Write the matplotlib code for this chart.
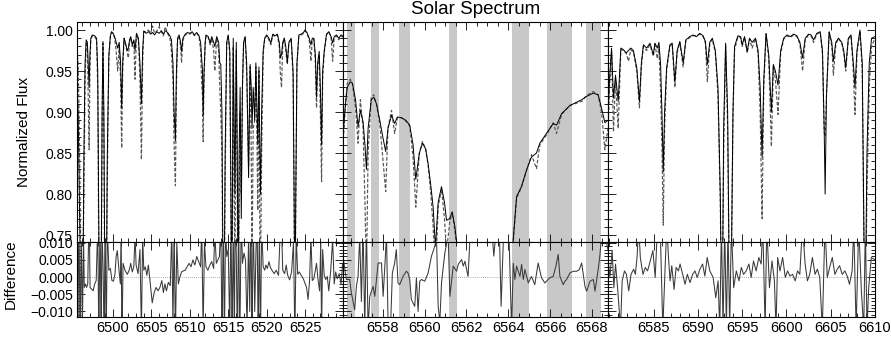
import numpy as np
import matplotlib.pyplot as plt
from matplotlib.ticker import MultipleLocator, FixedLocator, FixedFormatter

plt.rcParams['font.family'] = ['Liberation Sans', 'DejaVu Sans']

# ---- left window: wavelength, observed flux, model flux ----
left_wave = [6495.30, 6495.45, 6495.60, 6495.75, 6495.90, 6496.05, 6496.20, 6496.35, 6496.50, 6496.65,
             6496.80, 6496.88, 6496.98, 6497.10, 6497.30, 6497.60, 6497.85, 6498.00, 6498.15, 6498.30,
             6498.45, 6498.57, 6498.68, 6498.80, 6498.95, 6499.10, 6499.25, 6499.45, 6499.65, 6499.80,
             6500.00, 6500.20, 6500.40, 6500.60, 6500.80, 6500.98, 6501.12, 6501.25, 6501.43, 6501.60,
             6501.85, 6501.99, 6502.15, 6502.30, 6502.50, 6502.70, 6502.86, 6503.05, 6503.30, 6503.50,
             6503.69, 6503.85, 6504.00, 6504.30, 6504.60, 6504.90, 6505.15, 6505.40, 6505.70, 6506.00,
             6506.30, 6506.55, 6506.80, 6507.10, 6507.40, 6507.60, 6507.80, 6507.95, 6508.12, 6508.25,
             6508.40, 6508.60, 6508.80, 6508.92, 6509.10, 6509.40, 6509.70, 6510.00, 6510.30, 6510.60,
             6510.90, 6511.20, 6511.40, 6511.55, 6511.65, 6511.73, 6511.85, 6512.00, 6512.10, 6512.40,
             6512.65, 6512.85, 6513.10, 6513.25, 6513.50, 6513.75, 6513.90, 6514.03, 6514.18, 6514.30,
             6514.45, 6514.60, 6514.80, 6515.00, 6515.20, 6515.35, 6515.45, 6515.55, 6515.65, 6515.78,
             6515.87, 6515.96, 6516.05, 6516.18, 6516.30, 6516.42, 6516.55, 6516.70, 6516.85, 6517.00,
             6517.20, 6517.40, 6517.65, 6517.85, 6518.00, 6518.10, 6518.25, 6518.45, 6518.60, 6518.75,
             6518.85, 6519.00, 6519.12, 6519.20, 6519.35, 6519.55, 6519.75, 6520.00, 6520.30, 6520.55,
             6520.80, 6521.10, 6521.40, 6521.65, 6521.80, 6521.94, 6522.10, 6522.30, 6522.50, 6522.70,
             6522.90, 6523.20, 6523.45, 6523.58, 6523.68, 6523.80, 6523.95, 6524.20, 6524.50, 6524.80,
             6525.00, 6525.25, 6525.55, 6525.77, 6525.95, 6526.15, 6526.35, 6526.50, 6526.65, 6526.85,
             6527.00, 6527.16, 6527.30, 6527.50, 6527.80, 6528.10, 6528.40, 6528.60, 6528.80, 6529.10,
             6529.40, 6529.70, 6530.00]
left_obs = [0.930, 0.900, 0.800, 0.700, 0.600, 0.650, 0.850, 0.960, 0.988, 0.985,
            0.950, 0.930, 0.970, 0.990, 0.994, 0.993, 0.990, 0.950, 0.750, 0.600,
            0.700, 0.900, 0.986, 0.900, 0.650, 0.650, 0.850, 0.970, 0.993, 0.998,
            0.996, 0.992, 0.985, 0.978, 0.985, 0.960, 0.905, 0.960, 0.990, 0.985,
            0.975, 0.978, 0.988, 0.992, 0.982, 0.988, 0.975, 0.996, 0.990, 0.960,
            0.910, 0.975, 0.999, 0.996, 0.998, 0.995, 0.997, 0.994, 0.998, 0.996,
            0.999, 0.995, 0.999, 0.997, 0.993, 0.988, 0.960, 0.900, 0.865, 0.950,
            0.990, 0.994, 0.985, 0.974, 0.990, 0.995, 0.997, 0.996, 0.998, 0.994,
            0.997, 0.993, 0.985, 0.965, 0.950, 0.895, 0.950, 0.985, 0.994, 0.992,
            0.984, 0.992, 0.985, 0.980, 0.992, 0.985, 0.960, 0.958, 0.900, 0.720,
            0.650, 0.850, 0.985, 0.994, 0.975, 0.800, 0.650, 0.800, 0.990, 0.880,
            0.800, 0.900, 0.985, 0.850, 0.650, 0.850, 0.930, 0.770, 0.930, 0.985,
            0.992, 0.960, 0.820, 0.958, 0.930, 0.880, 0.930, 0.890, 0.960, 0.900,
            0.860, 0.955, 0.850, 0.800, 0.900, 0.975, 0.990, 0.994, 0.990, 0.984,
            0.995, 0.993, 0.995, 0.985, 0.966, 0.970, 0.985, 0.990, 0.980, 0.960,
            0.985, 0.990, 0.950, 0.800, 0.650, 0.800, 0.960, 0.994, 0.995, 0.997,
            1.000, 0.997, 0.990, 0.982, 0.990, 0.990, 0.970, 0.918, 0.960, 0.974,
            0.930, 0.860, 0.950, 0.974, 0.995, 0.998, 0.992, 0.984, 0.992, 0.994,
            0.990, 0.994, 0.992]
left_model = [0.975, 0.960, 0.880, 0.760, 0.640, 0.700, 0.800, 0.940, 0.985, 0.980,
              0.900, 0.854, 0.950, 0.988, 0.993, 0.992, 0.988, 0.930, 0.700, 0.580,
              0.680, 0.880, 0.984, 0.870, 0.620, 0.620, 0.820, 0.965, 0.992, 0.997,
              0.996, 0.990, 0.975, 0.950, 0.980, 0.940, 0.856, 0.950, 0.990, 0.983,
              0.972, 0.966, 0.986, 0.991, 0.980, 0.986, 0.940, 0.995, 0.988, 0.940,
              0.842, 0.960, 0.998, 0.998, 1.000, 0.996, 1.005, 0.996, 0.999, 1.004,
              0.998, 0.993, 1.004, 0.996, 0.990, 0.975, 0.940, 0.860, 0.810, 0.930,
              0.988, 0.993, 0.980, 0.960, 0.988, 0.994, 0.996, 0.995, 0.997, 0.993,
              0.996, 0.992, 0.975, 0.933, 0.920, 0.864, 0.940, 0.983, 0.993, 0.991,
              0.982, 0.990, 0.975, 0.950, 0.990, 0.975, 0.930, 0.900, 0.850, 0.700,
              0.620, 0.820, 0.983, 0.994, 0.970, 0.780, 0.620, 0.750, 0.980, 0.800,
              0.700, 0.850, 0.975, 0.800, 0.620, 0.800, 0.900, 0.800, 0.930, 0.983,
              0.991, 0.950, 0.835, 0.955, 0.850, 0.700, 0.880, 0.890, 0.955, 0.860,
              0.780, 0.950, 0.750, 0.700, 0.850, 0.970, 0.989, 0.993, 0.988, 0.982,
              0.994, 0.992, 0.994, 0.980, 0.945, 0.930, 0.980, 0.990, 0.975, 0.958,
              0.984, 0.989, 0.940, 0.780, 0.620, 0.780, 0.955, 0.993, 0.994, 0.996,
              0.999, 0.996, 0.988, 0.962, 0.988, 0.989, 0.960, 0.905, 0.955, 0.970,
              0.900, 0.815, 0.940, 0.972, 0.994, 0.998, 0.990, 0.962, 0.990, 0.993,
              0.988, 0.993, 0.991]

# ---- middle window (H-alpha) ----
mid_wave = [6556.10, 6556.20, 6556.30, 6556.45, 6556.55, 6556.70, 6556.82, 6556.93, 6557.06, 6557.15,
            6557.22, 6557.30, 6557.45, 6557.57, 6557.70, 6557.86, 6558.00, 6558.14, 6558.25, 6558.42,
            6558.57, 6558.70, 6558.90, 6559.10, 6559.29, 6559.45, 6559.58, 6559.75, 6559.90, 6560.05,
            6560.17, 6560.30, 6560.41, 6560.52, 6560.65, 6560.81, 6560.95, 6561.05, 6561.20, 6561.32,
            6561.45, 6561.56, 6562.00, 6562.80, 6563.60, 6564.10, 6564.24, 6564.40, 6564.63, 6564.87,
            6565.11, 6565.35, 6565.51, 6565.83, 6566.15, 6566.31, 6566.55, 6566.95, 6567.51, 6567.74,
            6568.06, 6568.30, 6568.46, 6568.62, 6568.77]
mid_obs = [0.870, 0.905, 0.930, 0.937, 0.935, 0.915, 0.882, 0.902, 0.888, 0.860,
           0.830, 0.880, 0.915, 0.918, 0.910, 0.890, 0.870, 0.852, 0.880, 0.896,
           0.886, 0.894, 0.893, 0.890, 0.884, 0.860, 0.818, 0.850, 0.862, 0.855,
           0.837, 0.810, 0.784, 0.735, 0.790, 0.809, 0.790, 0.768, 0.770, 0.778,
           0.760, 0.735, 0.450, 0.170, 0.400, 0.700, 0.745, 0.797, 0.809, 0.829,
           0.845, 0.850, 0.862, 0.874, 0.886, 0.884, 0.898, 0.908, 0.915, 0.919,
           0.923, 0.921, 0.905, 0.887, 0.890]
mid_model = [0.860, 0.900, 0.935, 0.940, 0.935, 0.905, 0.862, 0.915, 0.880, 0.790,
             0.700, 0.850, 0.918, 0.921, 0.910, 0.885, 0.845, 0.803, 0.880, 0.902,
             0.874, 0.893, 0.893, 0.889, 0.883, 0.845, 0.784, 0.850, 0.864, 0.855,
             0.835, 0.800, 0.760, 0.700, 0.785, 0.806, 0.770, 0.730, 0.765, 0.778,
             0.755, 0.730, 0.450, 0.170, 0.400, 0.700, 0.742, 0.795, 0.808, 0.828,
             0.848, 0.831, 0.860, 0.872, 0.887, 0.874, 0.897, 0.908, 0.913, 0.920,
             0.925, 0.921, 0.900, 0.854, 0.880]
# excluded (shaded) wavelength intervals
mask_lo = [6556.29, 6557.43, 6558.80, 6561.16, 6564.19, 6565.86, 6567.71]
mask_hi = [6556.66, 6557.82, 6559.29, 6561.56, 6564.97, 6567.03, 6568.42]

# ---- right window ----
right_wave = [6579.80, 6580.02, 6580.25, 6580.47, 6580.70, 6581.00, 6581.30, 6581.60, 6581.90, 6582.16,
              6582.42, 6582.72, 6583.10, 6583.40, 6583.62, 6583.85, 6584.22, 6584.59, 6584.97, 6585.15,
              6585.42, 6585.60, 6585.79, 6585.94, 6586.09, 6586.24, 6586.47, 6586.84, 6587.10, 6587.40,
              6587.66, 6587.96, 6588.34, 6588.64, 6589.09, 6589.46, 6589.84, 6590.21, 6590.59, 6590.85,
              6591.07, 6591.34, 6591.63, 6591.97, 6592.27, 6592.53, 6592.72, 6592.91, 6593.13, 6593.36,
              6593.58, 6593.77, 6593.96, 6594.14, 6594.52, 6594.82, 6595.00, 6595.27, 6595.57, 6595.83,
              6596.13, 6596.50, 6596.80, 6597.03, 6597.25, 6597.44, 6597.70, 6598.00, 6598.30, 6598.52,
              6598.75, 6599.05, 6599.35, 6599.69, 6600.06, 6600.44, 6600.81, 6601.18, 6601.52, 6601.82,
              6602.12, 6602.50, 6602.79, 6603.06, 6603.43, 6603.81, 6604.07, 6604.26, 6604.37, 6604.52,
              6604.82, 6605.12, 6605.30, 6605.57, 6605.87, 6606.24, 6606.47, 6606.69, 6606.99, 6607.29,
              6607.55, 6607.74, 6607.96, 6608.30, 6608.56, 6608.75, 6608.90, 6609.09, 6609.35, 6609.61,
              6610.00]
right_obs = [0.880, 0.940, 0.978, 0.917, 0.945, 0.913, 0.978, 0.976, 0.972, 0.975,
             0.978, 0.975, 0.954, 0.913, 0.960, 0.982, 0.978, 0.984, 0.970, 0.984,
             0.978, 0.985, 0.958, 0.900, 0.827, 0.900, 0.954, 0.982, 0.984, 0.937,
             0.975, 0.986, 0.960, 0.988, 0.992, 0.994, 0.992, 0.996, 0.993, 0.986,
             0.958, 0.985, 0.990, 0.975, 0.930, 0.800, 0.600, 0.880, 0.984, 0.900,
             0.650, 0.700, 0.900, 0.980, 0.993, 0.992, 0.982, 0.992, 0.974, 0.990,
             0.985, 0.990, 0.975, 0.930, 0.845, 0.940, 0.996, 0.970, 0.900, 0.958,
             0.950, 0.933, 0.975, 0.990, 0.994, 0.992, 0.995, 0.993, 0.985, 0.966,
             0.990, 0.995, 0.994, 0.988, 0.996, 0.998, 0.975, 0.880, 0.800, 0.920,
             0.998, 0.985, 0.962, 0.985, 0.990, 0.985, 0.975, 0.954, 0.990, 0.994,
             0.960, 0.930, 0.975, 1.000, 0.960, 0.750, 0.650, 0.850, 0.960, 0.990,
             0.992]
right_model = [0.856, 0.930, 0.975, 0.876, 0.940, 0.880, 0.976, 0.975, 0.972, 0.962,
               0.976, 0.973, 0.950, 0.905, 0.955, 0.980, 0.975, 0.982, 0.968, 0.983,
               0.965, 0.980, 0.925, 0.860, 0.762, 0.880, 0.950, 0.980, 0.983, 0.930,
               0.973, 0.985, 0.955, 0.987, 0.991, 0.993, 0.993, 0.995, 0.992, 0.984,
               0.937, 0.983, 0.989, 0.972, 0.920, 0.790, 0.600, 0.850, 0.982, 0.880,
               0.650, 0.700, 0.890, 0.976, 0.992, 0.991, 0.980, 0.991, 0.972, 0.989,
               0.978, 0.990, 0.970, 0.900, 0.770, 0.930, 0.995, 0.965, 0.858, 0.955,
               0.940, 0.897, 0.972, 0.989, 0.993, 0.991, 0.994, 0.992, 0.983, 0.950,
               0.988, 0.994, 0.993, 0.985, 0.995, 0.997, 0.970, 0.876, 0.870, 0.920,
               0.997, 0.980, 0.945, 0.982, 0.990, 0.984, 0.972, 0.950, 0.989, 0.993,
               0.950, 0.897, 0.970, 0.999, 0.950, 0.740, 0.650, 0.800, 0.930, 0.980,
               0.990]

# ---- difference (observed - model) ----
left_dwave = [6495.30, 6495.40, 6495.55, 6495.70, 6495.85, 6496.00, 6496.15, 6496.25, 6496.40, 6496.55,
              6496.70, 6496.88, 6497.00, 6497.20, 6497.40, 6497.60, 6497.80, 6498.00, 6498.15, 6498.30,
              6498.45, 6498.55, 6498.70, 6498.85, 6498.95, 6499.10, 6499.25, 6499.45, 6499.65, 6499.85,
              6500.05, 6500.25, 6500.40, 6500.55, 6500.75, 6500.95, 6501.05, 6501.15, 6501.30, 6501.55,
              6501.85, 6502.10, 6502.30, 6502.50, 6502.70, 6502.86, 6503.00, 6503.25, 6503.50, 6503.69,
              6503.85, 6504.00, 6504.20, 6504.40, 6504.60, 6504.85, 6505.10, 6505.35, 6505.60, 6505.85,
              6506.10, 6506.35, 6506.55, 6506.75, 6506.95, 6507.20, 6507.45, 6507.65, 6507.80, 6507.95,
              6508.12, 6508.30, 6508.50, 6508.70, 6508.92, 6509.15, 6509.40, 6509.65, 6509.90, 6510.15,
              6510.40, 6510.65, 6510.90, 6511.15, 6511.40, 6511.55, 6511.73, 6511.90, 6512.10, 6512.35,
              6512.60, 6512.85, 6513.10, 6513.25, 6513.45, 6513.65, 6513.85, 6514.03, 6514.20, 6514.35,
              6514.50, 6514.65, 6514.80, 6515.00, 6515.20, 6515.35, 6515.50, 6515.65, 6515.80, 6515.90,
              6516.05, 6516.20, 6516.35, 6516.50, 6516.70, 6516.85, 6517.05, 6517.25, 6517.45, 6517.65,
              6517.80, 6517.95, 6518.10, 6518.25, 6518.45, 6518.60, 6518.75, 6518.90, 6519.05, 6519.20,
              6519.35, 6519.55, 6519.75, 6519.90, 6520.10, 6520.30, 6520.50, 6520.75, 6521.00, 6521.25,
              6521.55, 6521.75, 6521.94, 6522.10, 6522.35, 6522.55, 6522.75, 6523.00, 6523.25, 6523.50,
              6523.68, 6523.85, 6524.05, 6524.25, 6524.50, 6524.75, 6524.95, 6525.20, 6525.40, 6525.60,
              6525.77, 6525.95, 6526.15, 6526.35, 6526.50, 6526.70, 6526.90, 6527.05, 6527.16, 6527.30,
              6527.50, 6527.70, 6527.90, 6528.10, 6528.35, 6528.60, 6528.80, 6529.00, 6529.20, 6529.45,
              6529.70, 6529.90, 6530.00]
left_diff = [0.015, -0.020, 0.020, -0.020, 0.015, -0.015, 0.012, -0.003, -0.002, -0.003,
             -0.002, 0.020, -0.003, -0.0035, -0.004, -0.002, -0.001, 0.015, -0.020, 0.020,
             -0.020, 0.015, 0.002, -0.020, 0.020, -0.020, 0.015, 0.002, 0.0025, -0.001,
             -0.0012, 0.001, 0.006, 0.0077, 0.0025, -0.002, 0.015, -0.020, 0.004, 0.002,
             0.0008, 0.002, 0.004, 0.0015, 0.003, 0.012, 0.0035, 0.001, 0.008, -0.016,
             0.012, 0.002, 0.003, 0.0005, 0.0035, -0.002, -0.0075, -0.0045, -0.003, -0.004,
             -0.003, -0.001, -0.0045, -0.002, -0.004, -0.0015, -0.0025, 0.014, -0.015, 0.015,
             -0.018, 0.010, -0.002, 0.0, 0.0015, 0.0018, 0.002, 0.003, 0.004, 0.003,
             0.005, 0.0035, 0.006, 0.0045, 0.003, 0.015, -0.016, 0.010, 0.003, 0.002,
             0.0035, 0.0045, 0.0025, 0.013, 0.004, 0.005, 0.006, 0.015, -0.020, 0.020,
             -0.020, 0.015, 0.006, 0.008, -0.015, 0.020, -0.020, 0.015, -0.018, 0.020,
             0.006, -0.020, 0.020, -0.020, 0.018, 0.004, 0.007, 0.005, -0.015, 0.012,
             -0.010, 0.020, -0.020, 0.018, -0.010, 0.006, 0.020, -0.020, 0.016, -0.020,
             0.015, 0.003, 0.002, 0.0035, 0.0025, 0.0045, 0.0028, 0.0018, 0.001, 0.002,
             0.0005, 0.012, 0.015, 0.002, 0.001, 0.0035, 0.0005, -0.0008, 0.0015, 0.010,
             -0.018, 0.012, 0.0008, 0.0015, 0.0005, -0.0003, -0.0015, -0.003, -0.0065, -0.001,
             0.012, -0.001, -0.0005, 0.002, 0.004, -0.0008, -0.004, 0.010, -0.016, 0.008,
             0.0005, -0.0007, 0.0002, -0.004, 0.002, 0.011, -0.002, 0.0015, -0.0005, 0.001,
             -0.002, 0.004, 0.003]

mid_dwave = [6556.10, 6556.26, 6556.42, 6556.50, 6556.66, 6556.74, 6556.82, 6556.90, 6556.98, 6557.06,
             6557.14, 6557.22, 6557.30, 6557.38, 6557.54, 6557.62, 6557.78, 6557.94, 6558.02, 6558.18,
             6558.26, 6558.37, 6558.46, 6558.57, 6558.65, 6558.73, 6558.81, 6558.97, 6559.13, 6559.21,
             6559.29, 6559.37, 6559.53, 6559.61, 6559.69, 6559.77, 6559.85, 6560.01, 6560.17, 6560.33,
             6560.49, 6560.57, 6560.65, 6560.73, 6560.81, 6560.97, 6561.13, 6561.21, 6561.37, 6561.53,
             6561.61, 6561.77, 6561.85, 6561.93, 6562.08, 6562.20, 6562.70, 6563.20, 6563.31, 6563.44,
             6563.57, 6563.66, 6563.79, 6564.00, 6564.16, 6564.24, 6564.32, 6564.40, 6564.56, 6564.64,
             6564.72, 6564.80, 6564.96, 6565.11, 6565.27, 6565.43, 6565.59, 6565.75, 6565.91, 6565.99,
             6566.15, 6566.28, 6566.39, 6566.47, 6566.63, 6566.71, 6566.79, 6566.95, 6567.11, 6567.27,
             6567.40, 6567.51, 6567.67, 6567.75, 6567.91, 6568.07, 6568.15, 6568.30, 6568.38, 6568.46,
             6568.62, 6568.77]
mid_diff = [0.0061, -0.0007, -0.0007, -0.0046, -0.0095, -0.0027, 0.0002, 0.012, -0.0071, 0.015,
            -0.015, 0.015, -0.015, -0.0056, -0.0027, -0.0056, 0.0041, 0.0041, -0.0056, 0.012,
            -0.015, -0.015, 0.0012, 0.0041, 0.0080, -0.0017, -0.0022, 0.0002, 0.0017, 0.0012,
            -0.0007, -0.0066, -0.0085, -0.0002, -0.0100, -0.0012, -0.0007, -0.0012, 0.0012, 0.0061,
            0.0090, 0.012, -0.0085, -0.013, -0.0017, 0.0071, 0.012, -0.0056, 0.0032, 0.0017,
            0.0037, 0.0051, 0.0032, 0.0046, 0.0002, 0.015, 0.030, 0.015, 0.0061, 0.015,
            0.015, -0.0085, 0.015, 0.020, -0.015, 0.004, -0.0007, 0.0032, 0.0002, 0.0037,
            -0.0007, 0.0022, -0.0017, 0.0002, -0.0022, 0.0041, -0.0002, -0.0017, -0.0007, -0.0002,
            0.0002, 0.0032, 0.0066, 0.0002, -0.0022, -0.0012, -0.0007, 0.0012, 0.0017, 0.0017,
            0.0022, 0.0041, -0.0027, -0.0041, -0.0012, -0.0007, -0.0041, 0.0022, 0.0061, 0.012,
            0.012, 0.008]

right_dwave = [6579.84, 6580.06, 6580.32, 6580.51, 6580.70, 6580.96, 6581.26, 6581.45, 6581.71, 6581.93,
               6582.19, 6582.45, 6582.75, 6582.94, 6583.13, 6583.31, 6583.50, 6583.80, 6584.06, 6584.32,
               6584.62, 6584.92, 6585.18, 6585.44, 6585.74, 6586.04, 6586.30, 6586.49, 6586.68, 6586.86,
               6587.05, 6587.31, 6587.54, 6587.80, 6587.99, 6588.28, 6588.55, 6588.81, 6589.11, 6589.41,
               6589.67, 6589.93, 6590.23, 6590.53, 6590.79, 6591.05, 6591.35, 6591.72, 6592.02, 6592.28,
               6592.47, 6592.66, 6592.84, 6593.03, 6593.22, 6593.40, 6593.59, 6593.78, 6594.04, 6594.34,
               6594.64, 6594.90, 6595.16, 6595.46, 6595.76, 6596.02, 6596.28, 6596.58, 6596.88, 6597.14,
               6597.33, 6597.59, 6597.78, 6598.08, 6598.37, 6598.64, 6598.82, 6599.01, 6599.27, 6599.57,
               6599.87, 6600.13, 6600.39, 6600.69, 6600.99, 6601.25, 6601.51, 6601.81, 6602.11, 6602.37,
               6602.63, 6602.93, 6603.23, 6603.49, 6603.76, 6604.05, 6604.35, 6604.61, 6604.88, 6605.18,
               6605.47, 6605.74, 6606.00, 6606.30, 6606.60, 6606.86, 6607.12, 6607.42, 6607.60, 6607.87,
               6608.16, 6608.46, 6608.73, 6608.91, 6609.10, 6609.29, 6609.58, 6610.00]
right_diff = [0.0057, -0.0001, 0.0077, -0.0031, 0.0038, -0.0040, -0.015, -0.0011, 0.0018, 0.0008,
              -0.0040, 0.0008, 0.0023, 0.0008, 0.0057, 0.015, 0.0057, 0.0008, 0.0028, 0.0018,
              0.0047, 0.0077, -0.0001, 0.015, 0.015, -0.015, 0.0028, 0.015, 0.0057, -0.0011,
              0.0033, -0.0036, 0.0028, 0.0018, 0.0038, 0.0008, -0.0021, 0.0008, -0.0016, 0.0008,
              0.0018, -0.0001, 0.0023, 0.0038, 0.0003, 0.0057, 0.0018, -0.0001, -0.0060, -0.0011,
              -0.015, 0.015, -0.015, 0.015, -0.015, 0.015, -0.015, 0.015, -0.0031, 0.0018,
              -0.0011, 0.0028, 0.0008, 0.0018, 0.0038, -0.0001, 0.0047, 0.0018, 0.0057, 0.0038,
              0.015, -0.015, 0.015, -0.0031, 0.0047, -0.0011, -0.015, 0.0057, 0.0018, 0.0057,
              -0.0001, 0.0018, 0.0003, 0.0008, -0.0011, 0.0018, 0.0008, 0.015, 0.0038, -0.0011,
              0.0008, 0.0057, 0.0008, 0.0023, -0.0001, -0.015, 0.015, -0.0001, 0.0028, 0.0057,
              0.0008, 0.0023, 0.0033, 0.0008, 0.0018, 0.0003, -0.0021, 0.0018, 0.015, -0.015,
              0.015, -0.0040, -0.015, 0.015, -0.015, -0.0031, 0.0057, 0.0050]

xlims = [(6495.3, 6529.95), (6556.10, 6568.77), (6579.85, 6610.0)]
major_ticks = [[6500, 6505, 6510, 6515, 6520, 6525],
               [6558, 6560, 6562, 6564, 6566, 6568],
               [6585, 6590, 6595, 6600, 6605, 6610]]
minor_step = [1.0, 0.5, 1.0]

flux_ticks = [0.75, 0.80, 0.85, 0.90, 0.95, 1.00]
diff_ticks = [-0.010, -0.005, 0.0, 0.005, 0.010]
diff_labels = ['\u22120.010', '\u22120.005', '0.000', '0.005', '0.010']

waves = [left_wave, mid_wave, right_wave]
obs = [left_obs, mid_obs, right_obs]
model = [left_model, mid_model, right_model]
dwaves = [left_dwave, mid_dwave, right_dwave]
diffs = [left_diff, mid_diff, right_diff]

W, H = 891, 337
fig = plt.figure(figsize=(W / 100, H / 100), dpi=100)
lefts = [77, 343, 608]
widths = [266, 265, 267]

band_color = '#c8c8c8'
for i in range(3):
    ax = fig.add_axes([lefts[i] / W, 1 - 242 / H, widths[i] / W, 220 / H])
    axd = fig.add_axes([lefts[i] / W, 1 - 317 / H, widths[i] / W, 75 / H])

    if i == 1:
        for lo, hi in zip(mask_lo, mask_hi):
            ax.axvspan(lo, hi, color=band_color, lw=0, zorder=0)
            axd.axvspan(lo, hi, color=band_color, lw=0, zorder=0)

    ax.plot(waves[i], model[i], color='#555555', lw=0.85, dashes=(3, 1.6), zorder=2)
    ax.plot(waves[i], obs[i], color='black', lw=0.7, zorder=3)
    axd.axhline(0, color='#909090', lw=0.6, ls=(0, (1, 1.5)), zorder=1)
    axd.plot(dwaves[i], diffs[i], color='#3a3a3a', lw=0.75, zorder=2)

    for a in (ax, axd):
        a.set_xlim(*xlims[i])
        a.xaxis.set_major_locator(FixedLocator(major_ticks[i]))
        a.xaxis.set_minor_locator(MultipleLocator(minor_step[i]))
        a.tick_params(which='both', direction='in', top=True, right=True,
                      width=0.6, pad=3)
        a.tick_params(axis='x', labelsize=10.5)
        a.tick_params(axis='y', labelsize=10)
        a.tick_params(which='major', length=6)
        a.tick_params(which='minor', length=3)
        for s in a.spines.values():
            s.set_linewidth(0.8)

    ax.set_ylim(0.7415, 1.0098)
    ax.yaxis.set_major_locator(FixedLocator(flux_ticks))
    ax.yaxis.set_minor_locator(MultipleLocator(0.01))
    ax.tick_params(labelbottom=False)

    axd.set_ylim(-0.0116, 0.0102)
    axd.yaxis.set_major_locator(FixedLocator(diff_ticks))
    axd.yaxis.set_minor_locator(MultipleLocator(0.001))

    if i == 0:
        ax.yaxis.set_major_formatter(FixedFormatter(['0.75', '0.80', '0.85', '0.90', '0.95', '1.00']))
        axd.yaxis.set_major_formatter(FixedFormatter(diff_labels))
        ax.set_ylabel('Normalized Flux', fontsize=11)
        ax.yaxis.set_label_coords(-0.172, 0.5)
        axd.set_ylabel('Difference', fontsize=11)
        axd.yaxis.set_label_coords(-0.222, 0.57)
    else:
        ax.tick_params(labelleft=False)
        axd.tick_params(labelleft=False)

fig.text(475.5 / W, 1 - 9 / H, 'Solar Spectrum', ha='center', va='center', fontsize=13.5)

fig.savefig('out.png', dpi=100)
